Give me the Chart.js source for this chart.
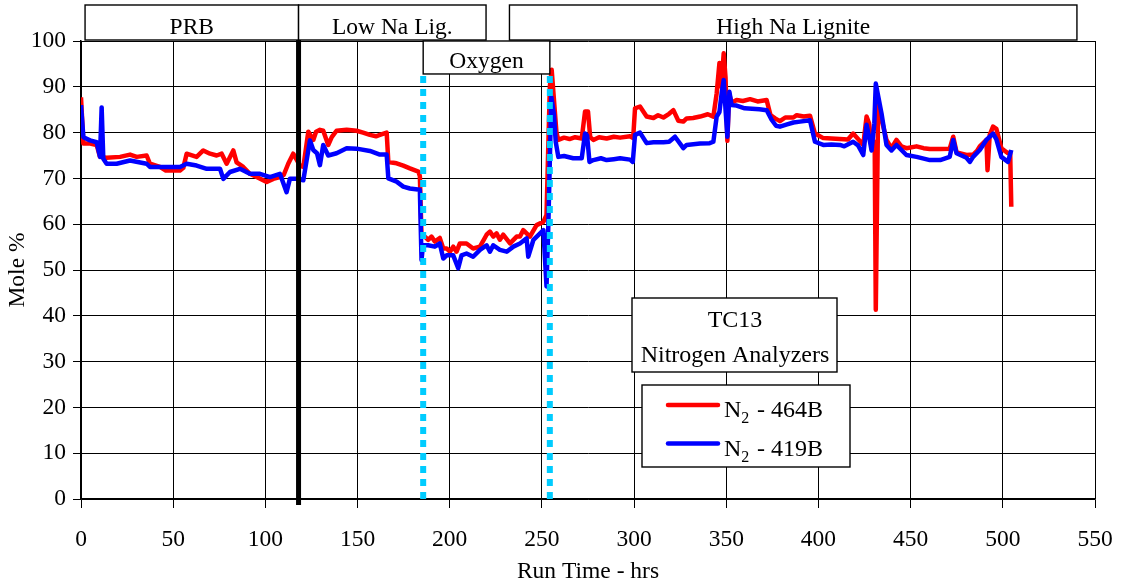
<!DOCTYPE html>
<html>
<head>
<meta charset="utf-8">
<title>TC13 Nitrogen Analyzers</title>
<script src="https://cdn.jsdelivr.net/npm/chart.js"></script>
<style>
  html, body { margin: 0; padding: 0; background: #fff; }
  #wrap { width: 1121px; height: 586px; }
</style>
</head>
<body>
<div id="wrap"><canvas id="chart" width="1121" height="586"></canvas></div>
<script>
// N2 - 464B analyzer (red)
const redHours = [0, 1.3, 5, 8.5, 10.3, 13.9, 21.2, 26.6, 30.2, 35.6, 37.4, 42.8, 46, 53.7, 55.5,
  57.3, 62.7, 66.3, 70, 73.6, 76.3, 79, 82.6, 84.4, 88, 91.6, 95.3, 100.7, 104.3, 107.9, 110,
  112.4, 115.1, 118.8, 120.6, 123.3, 126, 127.5, 129.6, 131.4, 134.1, 136, 138.6, 144.1, 149.5,
  153, 156.7, 160, 162.1, 165.8, 166.7, 171.2, 174.8, 178.4, 183, 183.8, 184.7, 186.5, 188.3,
  190.1, 191.9, 194.6, 196.5, 198.3, 200.1, 201.9, 203.7, 205.5, 209.1, 212.7, 216.4, 220, 221.8,
  223.6, 225.4, 227.2, 229, 232.7, 236.3, 238.1, 239.9, 243.5, 247.1, 250.8, 252.5, 254.3, 255.3,
  257.9, 258.9, 262, 265, 268, 271.6, 273.4, 275, 276.2, 277.9, 281, 285.1, 289, 292.4, 297.8,
  299.5, 300.5, 303.2, 306.8, 310.5, 313, 315.9, 319, 321.3, 324, 326.7, 328.5, 332, 335.8, 340,
  343, 344.8, 346.3, 347.3, 348.6, 349.6, 350.6, 351.5, 352.9, 355.6, 359, 362.9, 367, 371.9,
  374, 376.5, 379.1, 382, 386.4, 388.2, 392, 395.4, 398.1, 402.6, 407, 411.6, 416, 418.8, 421.5,
  424.3, 426.1, 427.5, 428.8, 430.5, 431.1, 432.4, 434.2, 436.9, 439.6, 442.3, 445, 447.7, 453.2,
  457, 460.4, 466, 471.2, 473.1, 474.9, 480.3, 483.9, 486, 487.5, 489.3, 491.1, 491.7, 492.9,
  494.7, 496.5, 499.2, 502.8, 504, 504.6];
const redValues = [87.7, 77.6, 77.6, 77.3, 74.7, 74.5, 74.7, 75.2, 74.7, 75, 73.2, 72.5, 71.7, 71.7, 72.3,
  75.4, 74.7, 76.1, 75.4, 75, 75.4, 73.2, 76.1, 73.5, 72.5, 71, 70.3, 69.2, 69.9, 70.3, 70.8,
  73.2, 75.4, 72.8, 72.5, 80.2, 78.4, 80.2, 80.6, 80.4, 77.3, 79, 80.4, 80.6, 80.4,
  80, 79.5, 79.2, 79.5, 80, 73.6, 73.3, 72.8, 72.2, 71.5, 70.5, 57.3, 57.3, 56.6,
  57.3, 56.2, 57, 54.7, 54.7, 54, 55.1, 54, 55.8, 55.8, 54.7, 55.1, 57.7, 58.4,
  57.3, 58, 56.6, 57.7, 55.8, 57.3, 57.3, 58.7, 57.3, 59.8, 60.5, 62, 90, 93.7,
  80, 78.4, 78.9, 78.6, 79, 78.7, 84.6, 84.6, 79, 78.4, 79, 78.7, 79.1, 78.9, 79.2,
  78.8, 85.3, 85.7, 83.5, 83.2, 83.8, 83.3, 84.1, 84.9, 82.6, 82.4, 83.1, 83.2, 83.5, 84,
  83.5, 88.6, 95.2, 90, 97.3, 92, 78.2, 88.6, 86.5, 87.1, 86.9, 87.3, 86.8, 87.1,
  83.8, 83.1, 82.5, 83.3, 83.3, 83.8, 83.5, 83.7, 79.8, 78.8, 78.7, 78.6, 78.5, 79.8, 78.6,
  77.3, 83.5, 82, 76.6, 78, 41.3, 86.4, 83, 78.4, 76.6, 78.4, 77, 76.6, 77,
  76.6, 76.4, 76.4, 76.5, 79.1, 75.7, 75.1, 75.2, 76, 77, 77.7, 78.4, 71.8, 79.5,
  81.3, 80.8, 76.6, 75.5, 75.6, 63.8];

// N2 - 419B analyzer (blue)
const blueHours = [0, 1.3, 4.9, 8.5, 10.3, 11.2, 12.1, 13.9, 19.3, 26.6, 35.6, 37.4, 44.6, 53.7,
  57.3, 62.7, 68.2, 75.4, 77.2, 80.8, 86.2, 91.6, 97.1, 102.5, 107.9, 111.5, 113.3, 116.9, 120.6,
  122.4, 124.2, 126, 128, 129.6, 131.4, 134.1, 138.6, 144.1, 149.5, 156.7, 162.1, 165.8, 166.7,
  171.2, 174.8, 178.4, 183.8, 184.7, 185.5, 188.3, 191.9, 194.6, 196.5, 198.3, 201.9, 204.6,
  206.4, 209.1, 212.7, 216.4, 220, 221.8, 223.6, 227.2, 230.9, 234.5, 238.1, 241.7, 242.6, 245.4,
  249, 250.8, 252.5, 253.5, 255.1, 256.5, 257.5, 258.9, 262, 267, 271.6, 273.4, 274.5, 275.8,
  277.9, 282, 285.1, 289, 292.4, 297.8, 299.3, 300.5, 303.2, 306.8, 310.5, 315.9, 319, 322.2,
  326.7, 328.5, 335.8, 341, 343, 344.8, 346.3, 347.5, 348.6, 349.6, 350.6, 351.7, 352.9, 355.6,
  360, 364, 368, 371.9, 374.6, 377, 379.1, 383, 386.4, 390, 395.4, 398.1, 402.6, 407, 411.7,
  414, 418.8, 421.5, 424.3, 426.1, 427.5, 428.8, 430.3, 431.1, 434.2, 436.9, 439.6, 442.3, 447.7,
  453.2, 460.4, 466, 471.2, 473.1, 474.9, 480.3, 482.1, 483.9, 487.5, 491.1, 494.7, 496.5, 499.2,
  502.8, 504.6];
const blueValues = [86, 79, 78.3, 77.9, 74.7, 85.5, 74.3, 73.2, 73.2, 73.9, 73.2, 72.5, 72.5, 72.5,
  73.2, 72.8, 72.1, 72.1, 69.9, 71.4, 72.1, 71, 71, 70.3, 71, 67, 69.9, 69.9, 69.6,
  74, 78.3, 76.2, 75.5, 72.9, 77.3, 75, 75.5, 76.6, 76.5, 76, 75.2, 75.2, 70,
  69.3, 68.2, 67.8, 67.5, 52.2, 55.4, 55.4, 55.1, 55.8, 52.5, 53.2, 53.2, 50.4,
  53.2, 53.6, 52.9, 54.4, 55.4, 54, 55.4, 54.4, 54, 55.1, 55.8, 56.9, 52.9, 56.6,
  58, 58.7, 46.4, 60, 87.8, 84, 78, 74.7, 74.9, 74.4, 74.4, 79.8, 79.4, 73.6,
  74, 74.4, 74, 74.2, 74.4, 74.1, 73.6, 79.5, 80, 77.7, 77.9, 77.9, 78, 79.1,
  76.6, 77.3, 77.6, 77.7, 78, 83.5, 84.5, 88.6, 91.5, 85, 79.1, 88.9, 86, 85.9,
  85.3, 85.2, 85.1, 84.9, 82.8, 81.5, 81.3, 81.8, 82.2, 82.4, 82.7, 78, 77.3, 77.4, 77.3,
  77, 78, 77.2, 75.1, 81.7, 79, 76.1, 82, 90.7, 84.2, 77.3, 76.1, 77.3, 75.1,
  74.7, 74, 74, 74.7, 78.4, 75.5, 74.5, 73.6, 74.7, 76.2, 78.4, 79.8, 78.5, 74.7,
  73.6, 76.2];

const seriesNames = ["464B", "419B"];
const seriesColors = ["#ff0000", "#0000ff"];

// coal phases along the top
const phaseNames = ["PRB", "Low Na Lig.", "High Na Lignite"];
const phaseFrom = [2.2, 118, 232.4];
const phaseTo = [118, 219.7, 540.2];

// fuel switch (black) and oxygen-blown period (cyan)
const coalSwitch = 118;
const oxygenFrom = 185.6;
const oxygenTo = 254.3;
const oxygenTop = 92.8;

const FONT = "'Liberation Serif', 'Times New Roman', serif";
const pts = (hs, vs) => hs.map((h, i) => ({ x: h, y: vs[i] }));

const boxes = {
  id: "boxes",
  afterDraw(chart) {
    const ctx = chart.ctx;
    const xs = chart.scales.x;
    ctx.save();
    ctx.font = "23.5px " + FONT;
    ctx.textAlign = "center";
    ctx.textBaseline = "alphabetic";
    ctx.lineWidth = 1.4;
    ctx.strokeStyle = "#000";

    function box(l, t, r, b) {
      ctx.fillStyle = "#fff";
      ctx.fillRect(l, t, r - l, b - t);
      ctx.strokeRect(l, t, r - l, b - t);
      ctx.fillStyle = "#000";
    }

    phaseNames.forEach((name, i) => {
      const l = xs.getPixelForValue(phaseFrom[i]);
      const r = xs.getPixelForValue(phaseTo[i]);
      box(l, 5, r, 40);
      ctx.fillText(name, (l + r) / 2, 34);
    });

    // oxygen label
    const ys = chart.scales.y;
    const ol = xs.getPixelForValue(oxygenFrom), or = xs.getPixelForValue(oxygenTo);
    const ob = ys.getPixelForValue(oxygenTop);
    box(ol, 41, or, ob);
    ctx.fillText("Oxygen", (ol + or) / 2, ob - 6);

    // title box
    box(632, 298, 837, 372);
    ctx.font = "24px " + FONT;
    ctx.fillText("TC13", 735, 327);
    ctx.fillText("Nitrogen Analyzers", 735, 361.5);

    // legend
    box(642, 385, 850, 467);
    ctx.textAlign = "left";
    const rows = [405, 443.5];
    seriesNames.forEach((nm, i) => {
      const y = rows[i];
      ctx.strokeStyle = seriesColors[i];
      ctx.lineWidth = 4.5;
      ctx.lineCap = "round";
      ctx.beginPath();
      ctx.moveTo(668, y);
      ctx.lineTo(718, y);
      ctx.stroke();
      ctx.fillStyle = "#000";
      ctx.font = "24px " + FONT;
      ctx.fillText("N", 724, y + 12);
      const nw = ctx.measureText("N").width;
      ctx.font = "16px " + FONT;
      ctx.fillText("2", 724 + nw, y + 18);
      ctx.font = "24px " + FONT;
      ctx.fillText("- " + nm, 757, y + 12);
    });
    ctx.restore();
  }
};

new Chart(document.getElementById("chart"), {
  type: "line",
  data: {
    datasets: [
      {
        label: "N2 - " + seriesNames[0],
        data: pts(redHours, redValues),
        borderColor: seriesColors[0],
        borderWidth: 4.5,
        pointRadius: 0,
        tension: 0,
        borderJoinStyle: "round",
        order: 2
      },
      {
        label: "N2 - " + seriesNames[1],
        data: pts(blueHours, blueValues),
        borderColor: seriesColors[1],
        borderWidth: 4.5,
        pointRadius: 0,
        tension: 0,
        borderJoinStyle: "round",
        order: 1
      },
      {
        label: "switch",
        data: [{ x: coalSwitch, y: -1.3 }, { x: coalSwitch, y: 100.2 }],
        borderColor: "#000",
        borderWidth: 5,
        pointRadius: 0,
        clip: false,
        order: 0
      },
      {
        label: "O2 start",
        data: [{ x: oxygenFrom, y: 0 }, { x: oxygenFrom, y: oxygenTop }],
        borderColor: "#00ccff",
        borderWidth: 6,
        borderDash: [7, 6],
        pointRadius: 0,
        order: 0
      },
      {
        label: "O2 end",
        data: [{ x: oxygenTo, y: 0 }, { x: oxygenTo, y: oxygenTop }],
        borderColor: "#00ccff",
        borderWidth: 6,
        borderDash: [7, 6],
        pointRadius: 0,
        order: 0
      }
    ]
  },
  options: {
    responsive: false,
    animation: false,
    devicePixelRatio: 1,
    layout: { padding: { top: 41, right: 26, left: 0, bottom: 0 } },
    plugins: { legend: { display: false }, tooltip: { enabled: false } },
    scales: {
      x: {
        type: "linear",
        min: 0,
        max: 550,
        afterFit: s => { s.height = 87; s.paddingLeft = 0; s.paddingRight = 0; },
        ticks: { stepSize: 50, autoSkip: false, maxRotation: 0, color: "#000",
                 font: { family: FONT, size: 23.5 }, padding: 18 },
        grid: { color: "#000", lineWidth: 1, tickLength: 9 },
        border: { color: "#000", width: 1.5 },
        title: { display: true, text: "Run Time - hrs", color: "#000",
                 font: { family: FONT, size: 23.5 }, padding: { top: 0, bottom: 0 } }
      },
      y: {
        min: 0,
        max: 100,
        afterFit: s => { s.width = 81; s.paddingTop = 0; s.paddingBottom = 0; },
        ticks: { stepSize: 10, color: "#000", font: { family: FONT, size: 23.5 }, padding: 7 },
        grid: { color: "#000", lineWidth: 1, tickLength: 8 },
        border: { color: "#000", width: 1.5 },
        title: { display: true, text: "Mole %", color: "#000",
                 font: { family: FONT, size: 23.5 }, padding: { top: 4, bottom: 0 } }
      }
    }
  },
  plugins: [boxes]
});
</script>
</body>
</html>
